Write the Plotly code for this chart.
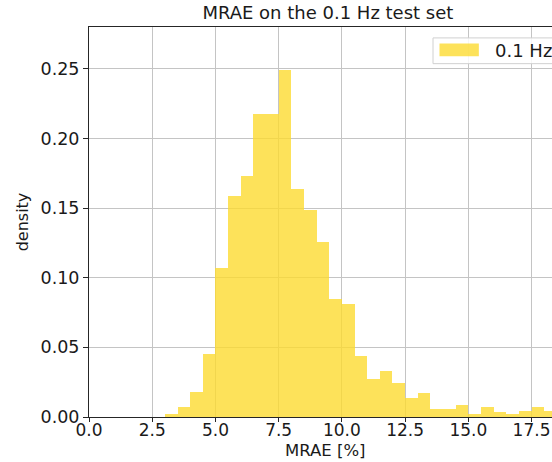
import numpy as np
import plotly.graph_objects as go

# Histogram of MRAE on the 0.1 Hz test set (density, 0.5 % wide bins from 0 %)
bin_start = 0.0
bin_width = 0.5
density = [
    0.0, 0.0, 0.0, 0.0, 0.0, 0.0,            # 0.0 - 3.0
    0.002, 0.0074, 0.0178, 0.0453,           # 3.0 - 5.0
    0.1068, 0.1588, 0.1728, 0.2172,          # 5.0 - 7.0
    0.2172, 0.2494, 0.164, 0.1485,           # 7.0 - 9.0
    0.1258, 0.0846, 0.081, 0.0436,           # 9.0 - 11.0
    0.0274, 0.0328, 0.0245, 0.014,           # 11.0 - 13.0
    0.0174, 0.0059, 0.0059, 0.0088,          # 13.0 - 15.0
    0.0019, 0.0071, 0.0038, 0.0019,          # 15.0 - 17.0
    0.004, 0.0071, 0.0042,                   # 17.0 - 18.5
]
series_name = "0.1 Hz"

x_ticks = [0.0, 2.5, 5.0, 7.5, 10.0, 12.5, 15.0, 17.5]
y_ticks = [0.0, 0.05, 0.10, 0.15, 0.20, 0.25]

centers = bin_start + bin_width * (np.arange(len(density)) + 0.5)

FILL = "rgba(252,219,49,0.80)"
FONT = "DejaVu Sans"
TEXT = "#1a1a1a"
AXIS_COLOR = "#262626"
GRID_COLOR = "#c4c4c4"

fig = go.Figure()
fig.add_trace(go.Bar(
    x=centers,
    y=density,
    width=bin_width,
    name=series_name,
    marker=dict(color=FILL, line=dict(width=0)),
    showlegend=False,
))

# Legend box (matplotlib-style, running off the right edge)
fig.add_shape(type="rect", xref="paper", yref="paper",
              x0=0.743, x1=1.2, y0=0.906, y1=0.972,
              line=dict(color="#d0d0d0", width=1), fillcolor="rgba(255,255,255,0.85)",
              layer="above")
fig.add_shape(type="rect", xref="paper", yref="paper",
              x0=0.757, x1=0.842, y0=0.925, y1=0.958,
              line=dict(width=0), fillcolor=FILL, layer="above")
fig.add_annotation(xref="paper", yref="paper", x=0.872, y=0.941,
                   xanchor="left", yanchor="middle", showarrow=False,
                   text=series_name, font=dict(family=FONT, size=18, color=TEXT))

# x-axis title, centred under the full plotting area
fig.add_annotation(xref="paper", yref="paper", x=0.51, y=-0.058,
                   xanchor="center", yanchor="top", showarrow=False, borderpad=0,
                   text="MRAE [%]", font=dict(family=FONT, size=16.5, color=TEXT))

fig.update_layout(
    width=552, height=462,
    margin=dict(l=89, r=0, t=27, b=45, autoexpand=False),
    paper_bgcolor="white", plot_bgcolor="white",
    bargap=0,
    font=dict(family=FONT, size=17, color=TEXT),
    title=dict(text="MRAE on the 0.1 Hz test set", x=0.594, xref="container", xanchor="center",
               y=0.987, yref="container", yanchor="top",
               font=dict(family=FONT, size=18, color=TEXT)),
)
fig.update_xaxes(
    range=[0, 18.31], tickvals=x_ticks, ticktext=[f"{v:.1f}" for v in x_ticks],
    showgrid=True, gridcolor=GRID_COLOR, gridwidth=1,
    showline=True, linecolor=AXIS_COLOR, linewidth=1, mirror=True,
    ticks="outside", ticklen=4, tickcolor=AXIS_COLOR,
    ticklabelstandoff=-6,
    zeroline=False,
    tickfont=dict(size=17),
)
fig.update_yaxes(
    range=[0, 0.28], tickvals=y_ticks, ticktext=[f"{v:.2f}" for v in y_ticks],
    showgrid=True, gridcolor=GRID_COLOR, gridwidth=1,
    showline=True, linecolor=AXIS_COLOR, linewidth=1, mirror=True,
    ticks="outside", ticklen=5, tickcolor=AXIS_COLOR,
    zeroline=False,
    title=dict(text="density", font=dict(size=16), standoff=7),
    tickfont=dict(size=17.5),
)

fig.write_html("out.html")
